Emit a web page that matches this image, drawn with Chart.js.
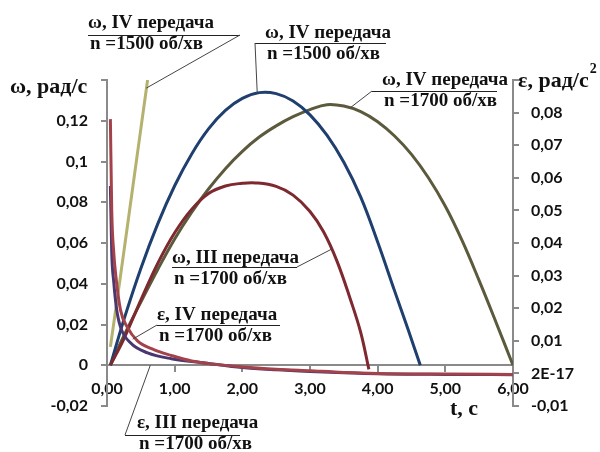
<!DOCTYPE html>
<html>
<head>
<meta charset="utf-8">
<script src="https://cdn.jsdelivr.net/npm/chart.js@4"></script>
<style>
  html, body { margin: 0; padding: 0; background: #fff; }
</style>
</head>
<body>
<canvas id="chart" width="600" height="452"></canvas>
<script>
// ω, IV передача, n = 1500 об/хв (steep line)
const tOmega4a = [0.05, 0.2, 0.4, 0.6];
const omega4a = [0.009, 0.044, 0.092, 0.140];

// ω, IV передача, n = 1500 об/хв
const tOmega4b = [0.05, 0.25, 0.5, 0.75, 1, 1.25, 1.5, 1.75, 2, 2.25, 2.5, 2.75, 3, 3.25, 3.5, 3.75, 4, 4.25, 4.45, 4.63];
const omega4b = [0, 0.0224, 0.0475, 0.0694, 0.0881, 0.1036, 0.1160, 0.1251, 0.1310, 0.1338, 0.1333, 0.1297, 0.1229, 0.1129, 0.0996, 0.0825, 0.0605, 0.0365, 0.0175, 0];

// ω, IV передача, n = 1700 об/хв
const tOmega4c = [0.05, 0.25, 0.5, 0.75, 1, 1.25, 1.5, 1.75, 2, 2.25, 2.5, 2.75, 3, 3.25, 3.5, 3.75, 4, 4.25, 4.5, 4.75, 5, 5.25, 5.5, 5.75, 6];
const omega4c = [0, 0.0145, 0.031, 0.047, 0.062, 0.075, 0.0865, 0.0965, 0.105, 0.112, 0.1175, 0.122, 0.1255, 0.1279, 0.1272, 0.1245, 0.1195, 0.1125, 0.1035, 0.092, 0.078, 0.061, 0.0415, 0.021, 0];

// ω, III передача, n = 1700 об/хв
const tOmega3 = [0.05, 0.25, 0.5, 0.75, 1, 1.25, 1.5, 1.75, 2, 2.2, 2.5, 2.75, 3, 3.2, 3.4, 3.6, 3.75, 3.87];
const omega3 = [0, 0.013, 0.032, 0.050, 0.065, 0.0765, 0.0843, 0.0880, 0.0893, 0.0895, 0.0878, 0.0835, 0.0755, 0.0655, 0.051, 0.032, 0.016, -0.002];

// ε, IV передача, n = 1700 об/хв (right axis)
const tEps4 = [0.05, 0.07, 0.1, 0.13, 0.2, 0.3, 0.45, 0.7, 0.95, 1.25, 1.5, 2, 2.5, 3, 3.5, 4, 5, 6];
const eps4 = [0.078, 0.050, 0.037, 0.030, 0.0194, 0.0142, 0.0100, 0.0072, 0.0055, 0.0038, 0.0030, 0.0020, 0.0013, 0.0008, 0.0003, 0, -0.0002, -0.0003];

// ε, III передача, n = 1700 об/хв (right axis)
const tEps3 = [0.05, 0.07, 0.1, 0.14, 0.2, 0.35, 0.6, 0.95, 1.45, 2, 2.5, 3, 3.5, 4, 5, 6];
const eps3 = [0.0575, 0.037, 0.028, 0.020, 0.0142, 0.0093, 0.0063, 0.0045, 0.0032, 0.0018, 0.0011, 0.0006, 0.0002, -0.0001, -0.0003, -0.0004];

const xTicks = [0, 1, 2, 3, 4, 5, 6];

function pts(xs, ys) {
  return xs.map((x, i) => ({ x: x, y: ys[i] }));
}
function comma(v, d) {
  return v.toFixed(d).replace('.', ',');
}

// callout labels: text placed in pixels, leader end in data units
const notes = [
  { lines: ['ω, IV передача', 'n =1500 об/хв'], x: 88, y: 23, sep: [88, 240, 35], from: [240, 35], to: ['y', 0.58, 0.136] },
  { lines: ['ω, IV передача', 'n =1500 об/хв'], x: 265, y: 33, sep: [255, 386, 43], from: [255, 43], to: ['y', 2.22, 0.1338] },
  { lines: ['ω, IV передача', 'n =1700 об/хв'], x: 382, y: 80, sep: [372, 497, 91], from: [372, 91], to: ['y', 3.6, 0.1265] },
  { lines: ['ω, III передача', 'n =1700 об/хв'], x: 172, y: 258, sep: [172, 297, 267], from: [297, 267], to: ['y', 3.32, 0.057] },
  { lines: ['ε, IV передача', 'n =1700 об/хв'], x: 157, y: 315, sep: [157, 280, 325], from: [157, 325], to: ['y1', 0.38, 0.0105] },
  { lines: ['ε, III передача', 'n =1700 об/хв'], x: 137, y: 423, sep: [125, 240, 435], from: [125, 435], to: ['y1', 0.64, 0.0025] }
];

const calloutPlugin = {
  id: 'callouts',
  afterDraw(chart) {
    const ctx = chart.ctx;
    const xs = chart.scales.x;
    ctx.save();
    ctx.fillStyle = '#111';
    ctx.font = 'bold 19px "Liberation Serif"';
    ctx.textBaseline = 'middle';
    ctx.textAlign = 'left';
    notes.forEach(n => {
      ctx.fillText(n.lines[0], n.x, n.y);
      ctx.fillText(n.lines[1], n.x + 2, n.y + 21);
      ctx.strokeStyle = '#222';
      ctx.lineWidth = 1;
      ctx.beginPath();
      ctx.moveTo(n.sep[0], n.sep[2] + 0.5);
      ctx.lineTo(n.sep[1], n.sep[2] + 0.5);
      ctx.stroke();
      const ys = chart.scales[n.to[0]];
      ctx.strokeStyle = '#444';
      ctx.beginPath();
      ctx.moveTo(n.from[0], n.from[1]);
      ctx.lineTo(xs.getPixelForValue(n.to[1]), ys.getPixelForValue(n.to[2]));
      ctx.stroke();
    });
    // axis titles
    ctx.font = 'bold 22px "Liberation Serif"';
    ctx.fillText('ω, рад/с', 10, 87);
    ctx.fillText('ε, рад/с', 518, 81);
    const w = ctx.measureText('ε, рад/с').width;
    ctx.font = 'bold 14px "Liberation Serif"';
    ctx.fillText('2', 518 + w + 1, 69);
    ctx.font = 'bold 22px "Liberation Serif"';
    ctx.fillText('t, с', 450, 409);
    ctx.restore();
  }
};

const tickFont = { family: 'Lato', size: 16, weight: 'bold' };
const axisGrey = '#8a8a8a';

const omegaLine = { yAxisID: 'y', borderWidth: 3, tension: 0.4 };
const epsLine = { yAxisID: 'y1', borderWidth: 3, cubicInterpolationMode: 'monotone' };

new Chart(document.getElementById('chart'), {
  type: 'line',
  data: {
    datasets: [
      Object.assign({ label: 'ε, IV передача', data: pts(tEps4, eps4), borderColor: '#a3424b' }, epsLine),
      Object.assign({ label: 'ε, III передача', data: pts(tEps3, eps3), borderColor: '#4a3770' }, epsLine),
      Object.assign({ label: 'ω, III передача', data: pts(tOmega3, omega3), borderColor: '#7e2830' }, omegaLine),
      Object.assign({ label: 'ω, IV 1500', data: pts(tOmega4b, omega4b), borderColor: '#1f3f6f' }, omegaLine),
      Object.assign({ label: 'ω, IV 1700', data: pts(tOmega4c, omega4c), borderColor: '#5b5a3c' }, omegaLine),
      Object.assign({ label: 'ω, IV 1500 a', data: pts(tOmega4a, omega4a), borderColor: '#b5b16e' }, omegaLine)
    ]
  },
  options: {
    responsive: false,
    devicePixelRatio: 1,
    animation: false,
    layout: { padding: { top: 80, bottom: 46, left: 0, right: 0 } },
    elements: {
      point: { radius: 0 },
      line: { fill: false }
    },
    plugins: {
      legend: { display: false },
      tooltip: { enabled: false }
    },
    scales: {
      x: {
        type: 'linear',
        position: { y: 0 },
        min: 0,
        max: 6,
        afterFit: s => { s.height = 0; },
        afterBuildTicks: s => { s.ticks = xTicks.map(v => ({ value: v })); },
        ticks: {
          autoSkip: false,
          maxRotation: 0,
          padding: 8,
          color: '#111',
          font: tickFont,
          callback: v => comma(v, 2)
        },
        border: { color: axisGrey, width: 2 },
        grid: { drawOnChartArea: false, color: axisGrey, lineWidth: 2, tickLength: 6 }
      },
      y: {
        position: 'left',
        min: -0.02,
        max: 0.14,
        afterFit: s => { s.width = 107; },
        ticks: {
          stepSize: 0.02,
          padding: 13,
          color: '#111',
          font: tickFont,
          callback: v => {
            if (Math.abs(v - 0.14) < 1e-9) return '';
            if (Math.abs(v) < 1e-9) return '0';
            if (Math.abs(v - 0.1) < 1e-9) return '0,1';
            return comma(v, 2);
          }
        },
        border: { color: axisGrey, width: 2 },
        grid: { drawOnChartArea: false, color: axisGrey, lineWidth: 2, tickLength: 6 }
      },
      y1: {
        position: 'right',
        min: -0.01,
        max: 0.09,
        afterFit: s => { s.width = 87; },
        ticks: {
          stepSize: 0.01,
          padding: 12,
          color: '#111',
          font: tickFont,
          callback: v => {
            if (Math.abs(v - 0.09) < 1e-9) return '';
            if (Math.abs(v) < 1e-9) return '2E-17';
            return comma(v, 2);
          }
        },
        border: { color: axisGrey, width: 2 },
        grid: { drawOnChartArea: false, color: axisGrey, lineWidth: 2, tickLength: 6 }
      }
    }
  },
  plugins: [calloutPlugin]
});
</script>
</body>
</html>
